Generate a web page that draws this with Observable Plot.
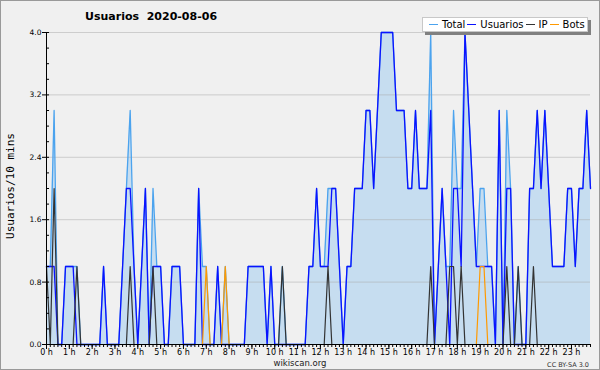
<!DOCTYPE html>
<html><head><meta charset="utf-8">
<script src="https://cdn.jsdelivr.net/npm/d3@7"></script>
<script src="https://cdn.jsdelivr.net/npm/@observablehq/plot@0.6"></script>
<style>
body{margin:0;background:#f0f0f0}
#wrap{position:relative;width:600px;height:370px;background:#f0f0f0;overflow:hidden}
#wrap svg{position:absolute;left:0;top:0}
.t{position:absolute;font-family:"DejaVu Sans",sans-serif;white-space:nowrap;color:#000}
#border{position:absolute;left:0;top:0;width:600px;height:370px;box-sizing:border-box;border:1px solid #999;pointer-events:none}
#legend{position:absolute;left:422px;top:17px;width:166px;height:15px;background:#fff;border:1px solid #c8c8c8;box-shadow:3px 3px 0 #808080;box-sizing:border-box;font-family:"DejaVu Sans",sans-serif;font-size:10px;line-height:13px;display:flex;align-items:center}
#legend span.sw{display:inline-block;width:9px;height:0;border-top:1px solid;margin:0 4px 0 6px;vertical-align:middle}
</style></head><body><div id="wrap"></div>
<script>
// 10-minute slots 0..143 (00:00 .. 23:50)
const total = [1,1,3,0,0,1,1,1,1,0, 0,0,0,0,0,1,0,0,0,0, 1,2,3,1,0,1,2,0,2,1, 1,0,0,1,1,1,0,0,0,0,
  2,1,1,0,0,1,0,1,0,0, 0,0,0,1,1,1,1,1,0,1, 0,0,1,0,0,0,0,0,0,1, 1,2,1,1,2,2,2,1,0,1,
  1,2,2,2,3,3,2,3,4,4, 4,4,3,3,3,2,2,3,2,2, 2,4,0,1,2,1,1,3,2,2, 4,3,2,1,2,2,1,1,0,3,
  0,3,2,0,1,0,0,2,2,3, 2,3,2,1,1,1,1,2,2,1, 2,2,3,2];
const usuarios = [1,1,1,0,0,1,1,1,0,0, 0,0,0,0,0,1,0,0,0,0, 1,2,2,1,0,1,2,0,1,1, 1,0,0,1,1,1,0,0,0,0,
  2,0,0,0,0,1,0,0,0,0, 0,0,0,1,1,1,1,1,0,1, 0,0,0,0,0,0,0,0,0,1, 1,2,1,1,1,2,2,1,0,1,
  1,2,2,2,3,3,2,3,4,4, 4,4,3,3,3,2,2,3,2,2, 2,3,0,1,2,1,0,2,2,1, 4,3,2,1,1,1,1,1,0,3,
  0,2,2,0,0,0,0,2,2,3, 2,3,2,1,1,1,1,2,2,1, 2,2,3,2];
const ip = [1,0,2,0,0,0,0,0,1,0, 0,0,0,0,0,0,0,0,0,0, 0,0,1,0,0,0,0,0,1,0, 0,0,0,0,0,0,0,0,0,0,
  0,0,0,0,0,0,0,0,0,0, 0,0,0,0,0,0,0,0,0,0, 0,0,1,0,0,0,0,0,0,0, 0,0,0,0,1,0,0,0,0,0,
  0,0,0,0,0,0,0,0,0,0, 0,0,0,0,0,0,0,0,0,0, 0,1,0,0,0,0,1,1,0,1, 0,0,0,0,0,0,0,0,0,0,
  0,1,0,0,1,0,0,0,1,0, 0,0,0,0,0,0,0,0,0,0, 0,0,0,0];
const bots = [0,0,0,0,0,0,0,0,0,0, 0,0,0,0,0,0,0,0,0,0, 0,0,0,0,0,0,0,0,0,0, 0,0,0,0,0,0,0,0,0,0,
  0,0,1,0,0,0,0,1,0,0, 0,0,0,0,0,0,0,0,0,0, 0,0,0,0,0,0,0,0,0,0, 0,0,0,0,0,0,0,0,0,0,
  0,0,0,0,0,0,0,0,0,0, 0,0,0,0,0,0,0,0,0,0, 0,0,0,0,0,0,0,0,0,0, 0,0,0,0,1,1,0,0,0,0,
  0,0,0,0,0,0,0,0,0,0, 0,0,0,0,0,0,0,0,0,0, 0,0,0,0];
const hours = d3.range(24);
const yTicks = [0, 0.8, 1.6, 2.4, 3.2, 4.0];
const yMinor = d3.range(0, 21).map(k => k * 0.2);
const seriesNames = ["Total", "Usuarios", "IP", "Bots"];
const seriesColors = ["#4ba3ee", "#0a12ff", "#333333", "#ff9a00"];

const data = total.map((t, i) => ({i, total: t, usuarios: usuarios[i], ip: ip[i], bots: bots[i]}));

const chart = Plot.plot({
  width: 600, height: 370,
  marginLeft: 46, marginRight: 10, marginTop: 32, marginBottom: 26,
  style: {background: "transparent", fontFamily: "DejaVu Sans, sans-serif", fontSize: "8px", color: "#000"},
  x: {domain: [0, 143], label: null},
  y: {domain: [0, 4], label: null},
  marks: [
    Plot.areaY(data, {x: "i", y: "total", fill: "#c6ddf0"}),
    Plot.ruleY(yTicks.slice(1), {stroke: "#aaaaaa", strokeOpacity: 0.5}),
    Plot.lineY(data, {x: "i", y: "total", stroke: seriesColors[0], strokeWidth: 1.3}),
    Plot.lineY(data, {x: "i", y: "usuarios", stroke: seriesColors[1], strokeWidth: 1.3}),
    Plot.lineY(data, {x: "i", y: "ip", stroke: seriesColors[2], strokeWidth: 1.2}),
    Plot.lineY(data, {x: "i", y: "bots", stroke: seriesColors[3], strokeWidth: 1.2}),
    Plot.axisY({ticks: yTicks, tickFormat: d => d.toFixed(1), tickSize: 4, tickPadding: 1, fontSize: 7.5, label: null}),
    Plot.ruleY(yMinor, {x1: 0, x2: 0.8, stroke: "#000"}),
    Plot.axisX({ticks: hours.map(h => h * 6), tickFormat: d => `${d / 6} h`, tickSize: 5, tickPadding: 0, fontSize: 8, label: null}),
    Plot.axisX({ticks: d3.range(144), tickFormat: () => "", tickSize: 3, label: null}),
    Plot.ruleX([0], {stroke: "#000"}),
    Plot.ruleY([0], {stroke: "#000"})
  ]
});
const wrap = document.getElementById("wrap");
wrap.appendChild(chart);

function addText(txt, css) {
  const d = document.createElement("div");
  d.className = "t";
  d.textContent = txt;
  Object.assign(d.style, css);
  wrap.appendChild(d);
  return d;
}
addText("Usuarios  2020-08-06", {left: "85px", top: "11px", fontSize: "11px", fontWeight: "bold", lineHeight: "11px", whiteSpace: "pre"});
addText("Usuarios/10 mins", {left: "10px", top: "186px", fontSize: "11px", fontFamily: "DejaVu Sans Mono, monospace", lineHeight: "11px", transform: "translate(-50%,-50%) rotate(-90deg)"});
addText("wikiscan.org", {left: "300px", top: "363px", fontSize: "8.5px", lineHeight: "9px", transform: "translate(-50%,-50%)", color: "#222"});
addText("CC BY-SA 3.0", {right: "11px", top: "365px", fontSize: "6.5px", lineHeight: "7px", transform: "translateY(-50%)", color: "#333"});

const lg = document.createElement("div");
lg.id = "legend";
seriesNames.forEach((n, k) => {
  const sw = document.createElement("span");
  sw.className = "sw";
  sw.style.borderColor = seriesColors[k];
  if (k > 0) sw.style.marginLeft = "2px";
  lg.appendChild(sw);
  const s = document.createElement("span");
  s.textContent = n;
  lg.appendChild(s);
});
wrap.appendChild(lg);

const b = document.createElement("div");
b.id = "border";
wrap.appendChild(b);
</script></body></html>
